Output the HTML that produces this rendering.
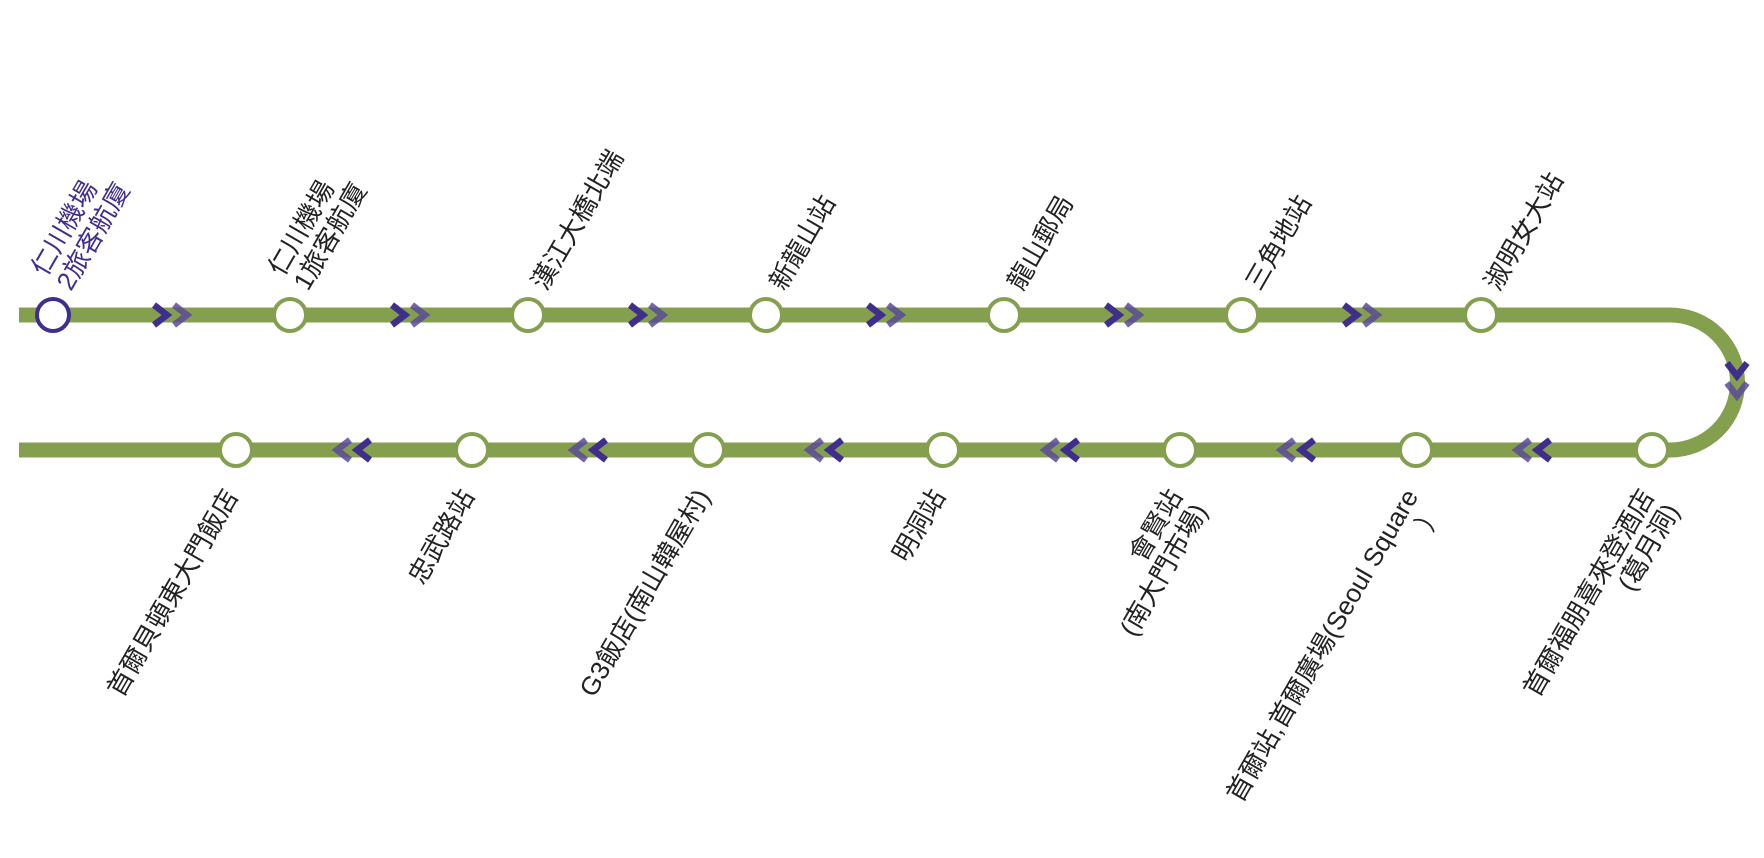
<!DOCTYPE html>
<html><head><meta charset="utf-8"><style>
html,body{margin:0;padding:0;background:#fff;}
svg{display:block;}
text{font-family:"Liberation Sans","Noto Sans CJK TC",sans-serif;font-size:26px;fill:#222;}
</style></head><body>
<svg width="1764" height="858" viewBox="0 0 1764 858" xmlns="http://www.w3.org/2000/svg">
<defs>
<g id="cr"><path d="M-8,-10 L5,0 L-8,10" fill="none" stroke="#3f2e8c" stroke-width="6.5" stroke-linejoin="miter"/></g>
<g id="cr2"><path d="M-8,-10 L5,0 L-8,10" fill="none" stroke="#5a4a98" stroke-opacity="0.85" stroke-width="6.5" stroke-linejoin="miter"/></g>
</defs>
<path d="M19,315 H1670 A67.5,67.5 0 0 1 1670,450 H19" fill="none" stroke="#84a04f" stroke-width="15"/>
<g>
<use href="#cr" x="162" y="315"/><use href="#cr2" x="182" y="315"/>
<use href="#cr" x="400" y="315"/><use href="#cr2" x="420" y="315"/>
<use href="#cr" x="638" y="315"/><use href="#cr2" x="658" y="315"/>
<use href="#cr" x="876" y="315"/><use href="#cr2" x="896" y="315"/>
<use href="#cr" x="1114" y="315"/><use href="#cr2" x="1134" y="315"/>
<use href="#cr" x="1352" y="315"/><use href="#cr2" x="1372" y="315"/>
</g>
<use href="#cr" transform="translate(1737,371) rotate(90)"/>
<use href="#cr2" transform="translate(1737,391) rotate(90)"/>
<g>
<use href="#cr" transform="translate(1542,450) rotate(180)"/><use href="#cr2" transform="translate(1522,450) rotate(180)"/>
<use href="#cr" transform="translate(1306,450) rotate(180)"/><use href="#cr2" transform="translate(1286,450) rotate(180)"/>
<use href="#cr" transform="translate(1070,450) rotate(180)"/><use href="#cr2" transform="translate(1050,450) rotate(180)"/>
<use href="#cr" transform="translate(834,450) rotate(180)"/><use href="#cr2" transform="translate(814,450) rotate(180)"/>
<use href="#cr" transform="translate(598,450) rotate(180)"/><use href="#cr2" transform="translate(578,450) rotate(180)"/>
<use href="#cr" transform="translate(362,450) rotate(180)"/><use href="#cr2" transform="translate(342,450) rotate(180)"/>
</g>
<g fill="#fff" stroke="#84a04f" stroke-width="4">
<circle cx="53" cy="315" r="16" stroke="#3f2e8c"/>
<circle cx="290" cy="315" r="16"/><circle cx="528" cy="315" r="16"/><circle cx="766" cy="315" r="16"/>
<circle cx="1004" cy="315" r="16"/><circle cx="1242" cy="315" r="16"/><circle cx="1481" cy="315" r="16"/>
<circle cx="236" cy="450" r="16"/><circle cx="472" cy="450" r="16"/><circle cx="708" cy="450" r="16"/>
<circle cx="943" cy="450" r="16"/><circle cx="1180" cy="450" r="16"/><circle cx="1416" cy="450" r="16"/>
<circle cx="1652" cy="450" r="16"/>
</g>
<text transform="translate(71,292) rotate(-60)" style="fill:#3f2e8c"><tspan x="0" y="-29">仁川機場</tspan><tspan x="0" y="0">2旅客航廈</tspan></text>
<text transform="translate(308,292) rotate(-60)"><tspan x="0" y="-29">仁川機場</tspan><tspan x="0" y="0">1旅客航廈</tspan></text>
<text transform="translate(546,292) rotate(-60)">漢江大橋北端</text>
<text transform="translate(784,292) rotate(-60)">新龍山站</text>
<text transform="translate(1022,292) rotate(-60)">龍山郵局</text>
<text transform="translate(1260,292) rotate(-60)">三角地站</text>
<text transform="translate(1499,292) rotate(-60)">淑明女大站</text>
<g text-anchor="end">
<text transform="translate(239,496) rotate(-60)">首爾貝頓東大門飯店</text>
<text transform="translate(475,496) rotate(-60)">忠武路站</text>
<text transform="translate(711,496) rotate(-60)">G3飯店(南山韓屋村)</text>
<text transform="translate(946,496) rotate(-60)">明洞站</text>
<text transform="translate(1183,496) rotate(-60)"><tspan x="0" y="0">會賢站</tspan><tspan x="0" y="29">(南大門市場)</tspan></text>
<text transform="translate(1419,496) rotate(-60)"><tspan x="0" y="0">首爾站,首爾廣場(Seoul Square</tspan><tspan x="0" y="29">）</tspan></text>
<text transform="translate(1655,496) rotate(-60)"><tspan x="0" y="0">首爾福朋喜來登酒店</tspan><tspan x="0" y="29">(葛月洞)</tspan></text>
</g>
</svg>
</body></html>
